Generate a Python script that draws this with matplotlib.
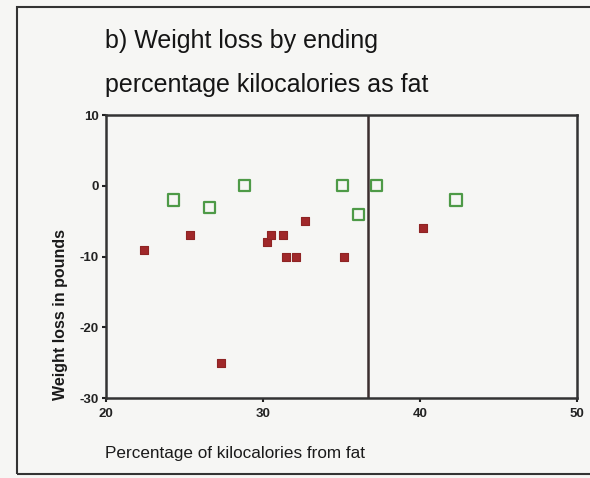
import matplotlib
matplotlib.use("Agg")
import matplotlib.pyplot as plt
from matplotlib.patches import Rectangle

plt.rcParams['font.family'] = ['Liberation Sans', 'DejaVu Sans']

# Data
fat_green = [24.3, 26.6, 28.8, 35.05, 36.1, 37.25, 42.3]
loss_green = [-2, -3, 0, 0, -4, 0, -2]
fat_red = [22.4, 25.35, 27.35, 30.25, 30.5, 31.25, 31.45, 32.1, 32.65, 35.15, 40.2]
loss_red = [-9, -7, -25, -8, -7, -7, -10, -10, -5, -10, -6]
cutoff = 36.7
xticks = [20, 30, 40, 50]
yticks = [10, 0, -10, -20, -30]

bg = '#f6f6f4'
fig = plt.figure(figsize=(5.9, 4.78), dpi=100, facecolor=bg)
ax = fig.add_axes([0.1797, 0.1667, 0.798, 0.5927], facecolor=bg)

ax.scatter(fat_red, loss_red, marker='s', s=36, color='#a0282a', edgecolors='#8e2424',
           linewidths=0.8, zorder=3)
ax.scatter(fat_green, loss_green, marker='s', s=64, facecolors='none', edgecolors='#4e9a47',
           linewidths=1.6, zorder=3)
ax.axvline(cutoff, color='#3b2e2e', lw=1.8, zorder=2)

ax.set_xlim(20, 50)
ax.set_ylim(-30, 10)
ax.set_xticks(xticks)
ax.set_yticks(yticks)
ax.set_xticklabels([str(t) for t in xticks], fontsize=9.5, fontweight='bold')
ax.set_yticklabels([str(t) for t in yticks], fontsize=9.5, fontweight='bold')
ax.tick_params(direction='out', length=3, width=1.5, colors='#222222', pad=2)
ax.tick_params(axis='x', pad=4)
for sp in ax.spines.values():
    sp.set_linewidth(1.8)
    sp.set_color('#333333')

fig.text(0.102, 0.163, 'Weight loss in pounds', rotation=90, fontsize=11.5, fontweight='bold',
         ha='center', va='bottom', color='#1a1a1a')
fig.text(0.178, 0.052, 'Percentage of kilocalories from fat', fontsize=12.3,
         ha='left', va='center', color='#1a1a1a')
fig.text(0.178, 0.915, 'b) Weight loss by ending', fontsize=18, ha='left', va='center',
         color='#151515')
fig.text(0.178, 0.822, 'percentage kilocalories as fat', fontsize=18, ha='left', va='center',
         color='#151515')

fig.patches.append(Rectangle((17/590, 1 - 474/478), 1.2, (474 - 7)/478, transform=fig.transFigure,
                             fill=False, edgecolor='#333333', linewidth=1.5))

fig.savefig('out.png', dpi=100, facecolor=bg)
